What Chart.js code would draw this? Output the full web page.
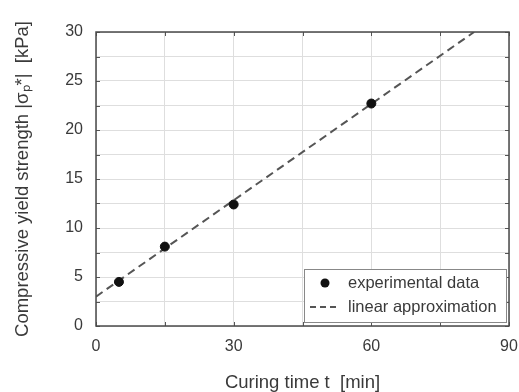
<!DOCTYPE html>
<html>
<head>
<meta charset="utf-8">
<script src="https://cdn.jsdelivr.net/npm/chart.js@4/dist/chart.umd.min.js"></script>
<style>
  html, body { margin: 0; padding: 0; background: #ffffff; }
  #wrap { width: 519px; height: 392px; position: relative; }
</style>
</head>
<body>
<div id="wrap"><canvas id="c" width="519" height="392"></canvas></div>
<script>
// ---- data ----
const timeMin = [5, 15, 30, 60];
const strengthKPa = [4.5, 8.1, 12.4, 22.7];
const fitTime = [0, 82.4];
const fitStrength = [3.0, 30];
const xTickLabels = [0, 30, 60, 90];
const yTickLabels = [0, 5, 10, 15, 20, 25, 30];
const seriesNames = ['experimental data', 'linear approximation'];
const xTitle = 'Curing time t  [min]';
const yTitle = 'Compressive yield strength |σₚ*|  [kPa]';

const FONT = '"Liberation Sans", Arial, sans-serif';
const TEXT = '#3a3a3a';

const innerTicks = {
  id: 'innerTicks',
  afterDatasetsDraw(chart) {
    const {ctx, chartArea: a, scales: {x, y}} = chart;
    ctx.save();
    ctx.strokeStyle = '#555';
    ctx.lineWidth = 1;
    const L = 4;
    x.ticks.forEach(t => {
      const px = Math.round(x.getPixelForValue(t.value)) + 0.5;
      ctx.beginPath();
      ctx.moveTo(px, a.bottom); ctx.lineTo(px, a.bottom - L);
      ctx.moveTo(px, a.top); ctx.lineTo(px, a.top + L);
      ctx.stroke();
    });
    y.ticks.forEach(t => {
      const py = Math.round(y.getPixelForValue(t.value)) + 0.5;
      ctx.beginPath();
      ctx.moveTo(a.left, py); ctx.lineTo(a.left + L, py);
      ctx.moveTo(a.right, py); ctx.lineTo(a.right - L, py);
      ctx.stroke();
    });
    ctx.strokeStyle = '#4a4a4a';
    ctx.lineWidth = 1.5;
    ctx.strokeRect(a.left, a.top, a.right - a.left, a.bottom - a.top);
    ctx.restore();
  }
};

const boxLegend = {
  id: 'boxLegend',
  afterDraw(chart) {
    const {ctx, chartArea: a} = chart;
    const ds = chart.data.datasets;
    const bx = 304, by = 269, bw = a.right - 3 - bx, bh = a.bottom - 4 - by;
    ctx.save();
    ctx.fillStyle = '#fff';
    ctx.fillRect(bx, by, bw, bh);
    ctx.strokeStyle = '#888';
    ctx.lineWidth = 1;
    ctx.strokeRect(bx + 0.5, by + 0.5, bw, bh);
    // entry 1: dot
    ctx.fillStyle = ds[0].backgroundColor;
    ctx.beginPath();
    ctx.arc(325, 283, 4.5, 0, Math.PI * 2);
    ctx.fill();
    // entry 2: dashed line
    ctx.strokeStyle = ds[1].borderColor;
    ctx.lineWidth = 2;
    ctx.setLineDash([6, 4]);
    ctx.beginPath();
    ctx.moveTo(310, 307); ctx.lineTo(339, 307);
    ctx.stroke();
    ctx.setLineDash([]);
    ctx.fillStyle = TEXT;
    ctx.font = '16.5px ' + FONT;
    ctx.textBaseline = 'middle';
    ctx.textAlign = 'left';
    ctx.fillText(ds[0].label, 348, 283);
    ctx.fillText(ds[1].label, 348, 307);
    ctx.restore();
  }
};

new Chart(document.getElementById('c'), {
  type: 'scatter',
  data: {
    datasets: [
      {
        label: seriesNames[0],
        data: timeMin.map((t, i) => ({x: t, y: strengthKPa[i]})),
        backgroundColor: '#111',
        borderColor: '#111',
        pointRadius: 4.5,
        pointHoverRadius: 4.5,
        order: 0
      },
      {
        label: seriesNames[1],
        data: fitTime.map((t, i) => ({x: t, y: fitStrength[i]})),
        showLine: true,
        borderColor: '#555',
        borderWidth: 2,
        borderDash: [8, 5],
        pointRadius: 0,
        order: 1
      }
    ]
  },
  options: {
    responsive: false,
    animation: false,
    events: [],
    layout: { padding: { top: 32, right: 10, left: 0, bottom: 0 } },
    plugins: { legend: { display: false }, tooltip: { enabled: false } },
    scales: {
      x: {
        type: 'linear',
        min: 0, max: 90,
        border: { display: false },
        grid: { color: '#dedede', lineWidth: 1, drawTicks: false },
        ticks: {
          stepSize: 15,
          padding: 11,
          color: TEXT,
          font: { family: FONT, size: 16 },
          maxRotation: 0,
          autoSkip: false,
          callback: v => xTickLabels.includes(v) ? String(v) : ''
        },
        title: {
          display: true, text: xTitle, color: TEXT,
          font: { family: FONT, size: 18.5, lineHeight: 1.0 },
          padding: { top: 0, bottom: 0 }
        },
        afterFit: s => { s.height = 66; s.paddingLeft = 0; s.paddingRight = 0; }
      },
      y: {
        type: 'linear',
        min: 0, max: 30,
        border: { display: false },
        grid: { color: '#dedede', lineWidth: 1, drawTicks: false },
        ticks: {
          stepSize: 2.5,
          padding: 13,
          color: TEXT,
          font: { family: FONT, size: 16 },
          autoSkip: false,
          callback: v => yTickLabels.includes(v) ? String(v) : ''
        },
        title: {
          display: true, text: yTitle, color: TEXT,
          font: { family: FONT, size: 18.5, lineHeight: 1.0 },
          padding: { top: 14, bottom: 0 }
        },
        afterFit: s => { s.width = 96; s.paddingTop = 0; s.paddingBottom = 0; }
      }
    }
  },
  plugins: [innerTicks, boxLegend]
});
</script>
</body>
</html>
